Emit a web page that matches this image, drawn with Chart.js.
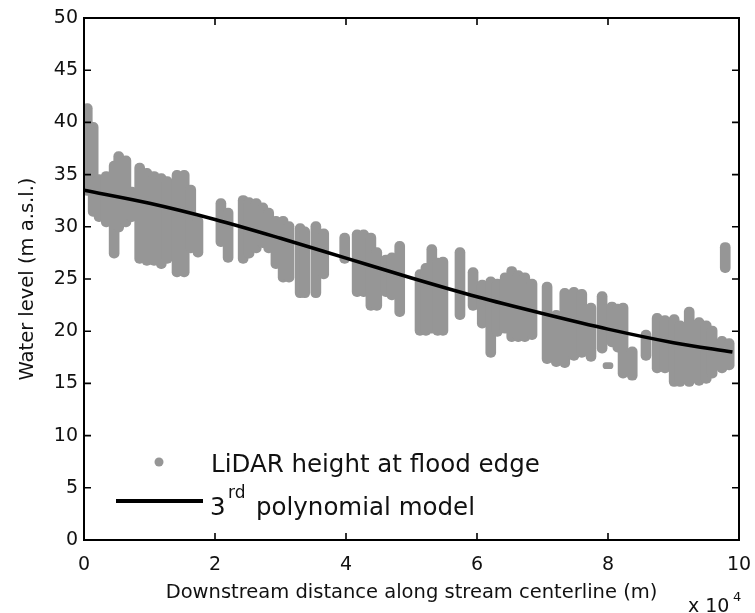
<!DOCTYPE html>
<html>
<head>
<meta charset="utf-8">
<script src="https://cdn.jsdelivr.net/npm/chart.js@4.4.0/dist/chart.umd.min.js"></script>
<style>
  body { margin: 0; background: #fff; }
</style>
</head>
<body>
<canvas id="levelChart" width="755" height="613"></canvas>
<script>
// LiDAR heights at the flood edge: each cross-section gives a stack of points,
// kept here as its distance (x 10^4 m) and the lowest / highest level (m a.s.l.)
var stackX = [
  0.05, 0.14, 0.23, 0.34, 0.46, 0.53, 0.64, 0.73, 0.85, 0.96,
  1.07, 1.18, 1.27, 1.42, 1.53, 1.63, 1.74, 2.09, 2.20, 2.43,
  2.52, 2.63, 2.73, 2.82, 2.93, 3.04, 3.13, 3.30, 3.37, 3.54,
  3.66, 3.98, 4.17, 4.27, 4.38, 4.47, 4.61, 4.70, 4.82, 5.13,
  5.22, 5.31, 5.40, 5.48, 5.74, 5.94, 6.08, 6.21, 6.31, 6.43,
  6.53, 6.63, 6.73, 6.84, 7.07, 7.21, 7.34, 7.48, 7.60, 7.74,
  7.91, 8.00, 8.06, 8.15, 8.23, 8.37, 8.58, 8.75, 8.87, 9.01,
  9.10, 9.24, 9.39, 9.50, 9.59, 9.74, 9.79, 9.85];
var stackLow = [
  33.0, 31.0, 30.5, 30.0, 27.0, 29.5, 30.0, 30.5, 26.5, 26.3,
  26.3, 26.0, 26.5, 25.2, 25.2, 27.5, 27.1, 28.1, 26.6, 26.5,
  27.0, 27.5, 28.0, 27.5, 26.0, 24.7, 24.7, 23.2, 23.2, 23.2,
  25.0, 26.5, 23.3, 23.3, 22.0, 22.0, 23.3, 23.0, 21.4, 19.6,
  19.6, 19.8, 19.6, 19.6, 21.1, 22.0, 20.3, 17.5, 19.5, 19.8,
  19.0, 19.0, 19.0, 19.2, 16.9, 16.6, 16.5, 17.2, 17.5, 17.1,
  17.9, 16.4, 18.5, 18.0, 15.5, 15.3, 17.2, 16.0, 16.0, 14.7,
  14.7, 14.7, 14.8, 15.0, 15.5, 16.0, 25.6, 16.3];
var stackHigh = [
  41.8, 40.0, 35.0, 35.3, 36.3, 37.2, 36.8, 33.8, 36.1, 35.6,
  35.3, 35.1, 34.8, 35.4, 35.4, 34.0, 31.0, 32.7, 31.8, 33.0,
  32.8, 32.7, 32.3, 31.8, 31.0, 31.0, 30.5, 30.3, 30.0, 30.5,
  29.8, 29.4, 29.7, 29.7, 29.4, 28.0, 27.3, 27.5, 28.6, 25.9,
  26.5, 28.3, 27.0, 27.1, 28.0, 26.1, 24.9, 25.2, 25.0, 25.6,
  26.2, 25.8, 25.6, 25.0, 24.7, 22.0, 24.1, 24.2, 24.0, 22.7,
  23.8, 17.0, 22.8, 22.6, 22.7, 18.5, 20.1, 21.7, 21.5, 21.6,
  21.0, 22.3, 21.3, 21.0, 20.5, 19.5, 28.5, 19.3];

// 3rd order polynomial model, sampled along the reach
var fitX = [0, 1, 2, 3, 4, 5, 6, 7, 8, 9, 9.9];
var fitY = [33.5, 32.25, 30.7, 28.9, 27.0, 25.1, 23.3, 21.7, 20.2, 18.9, 18.0];

var xTicks = [0, 2, 4, 6, 8, 10];
var yTicks = [0, 5, 10, 15, 20, 25, 30, 35, 40, 45, 50];

var FONT = "'DejaVu Sans', sans-serif";
var GRAY = 'rgb(150,150,150)';
var INK = '#111';

var stacks = stackX.map(function (x, i) {
  return { x: x, y: [stackLow[i], stackHigh[i]] };
});
var fit = fitX.map(function (x, i) {
  return { x: x, y: fitY[i] };
});

// box frame with inward ticks on all four sides, plus legend and exponent
var frame = {
  id: 'frame',
  afterDraw: function (chart) {
    var ctx = chart.ctx;
    var a = chart.chartArea;
    var xs = chart.scales.x, ys = chart.scales.y;
    ctx.save();
    ctx.strokeStyle = '#000';
    ctx.lineWidth = 1.6;
    ctx.beginPath();
    xTicks.forEach(function (v) {
      var px = xs.getPixelForValue(v);
      ctx.moveTo(px, a.bottom); ctx.lineTo(px, a.bottom - 7);
      ctx.moveTo(px, a.top); ctx.lineTo(px, a.top + 7);
    });
    yTicks.forEach(function (v) {
      var py = ys.getPixelForValue(v);
      ctx.moveTo(a.left, py); ctx.lineTo(a.left + 7, py);
      ctx.moveTo(a.right, py); ctx.lineTo(a.right - 7, py);
    });
    ctx.stroke();
    ctx.lineWidth = 2;
    ctx.strokeRect(a.left, a.top, a.right - a.left, a.bottom - a.top);

    // legend
    ctx.fillStyle = GRAY;
    ctx.beginPath();
    ctx.arc(159, 462, 4.5, 0, Math.PI * 2);
    ctx.fill();
    ctx.strokeStyle = '#000';
    ctx.lineWidth = 4;
    ctx.beginPath();
    ctx.moveTo(116, 501); ctx.lineTo(203, 501);
    ctx.stroke();

    ctx.fillStyle = INK;
    ctx.textBaseline = 'alphabetic';
    ctx.textAlign = 'left';
    ctx.font = '24.5px ' + FONT;
    ctx.fillText('LiDAR height at flood edge', 211, 472);
    ctx.fillText('3', 210, 515);
    ctx.fillText('polynomial model', 256, 515);
    ctx.font = '17px ' + FONT;
    ctx.fillText('rd', 228, 498);

    // axis multiplier
    ctx.font = '19px ' + FONT;
    ctx.fillText('x 10', 688, 612);
    ctx.font = '13px ' + FONT;
    ctx.fillText('4', 733, 601);
    ctx.restore();
  }
};

new Chart(document.getElementById('levelChart'), {
  type: 'bar',
  data: {
    datasets: [{
      type: 'line',
      label: '3rd polynomial model',
      data: fit,
      borderColor: '#000',
      borderWidth: 3.5,
      pointRadius: 0,
      cubicInterpolationMode: 'monotone',
      order: 0
    }, {
      type: 'bar',
      label: 'LiDAR height at flood edge',
      data: stacks,
      backgroundColor: GRAY,
      borderWidth: 0,
      borderRadius: 5,
      borderSkipped: false,
      barThickness: 10,
      order: 1
    }]
  },
  options: {
    responsive: false,
    devicePixelRatio: 1,
    animation: false,
    layout: { padding: { left: 0, top: 18, right: 16, bottom: 0 } },
    plugins: {
      legend: { display: false },
      tooltip: { enabled: false }
    },
    scales: {
      x: {
        type: 'linear',
        min: 0,
        max: 10,
        offset: false,
        grid: { display: false, drawTicks: false },
        border: { display: false },
        afterBuildTicks: function (s) {
          s.ticks = xTicks.map(function (v) { return { value: v }; });
        },
        afterFit: function (s) {
          s.height = 73;
          s.paddingLeft = 0;
          s.paddingRight = 0;
        },
        ticks: {
          padding: 14,
          maxRotation: 0,
          color: INK,
          font: { family: FONT, size: 19 }
        },
        title: {
          display: true,
          text: 'Downstream distance along stream centerline (m)',
          color: INK,
          font: { family: FONT, size: 19.5 },
          padding: { top: 0, bottom: 8 }
        }
      },
      y: {
        min: 0,
        max: 50,
        grid: { display: false, drawTicks: false },
        border: { display: false },
        afterBuildTicks: function (s) {
          s.ticks = yTicks.map(function (v) { return { value: v }; });
        },
        afterFit: function (s) {
          s.width = 84;
          s.paddingTop = 0;
          s.paddingBottom = 0;
        },
        ticks: {
          padding: 6,
          color: INK,
          font: { family: FONT, size: 19 }
        },
        title: {
          display: true,
          text: 'Water level (m a.s.l.)',
          color: INK,
          font: { family: FONT, size: 19.5 },
          padding: { top: 16, bottom: 0 }
        }
      }
    }
  },
  plugins: [frame]
});
</script>
</body>
</html>
